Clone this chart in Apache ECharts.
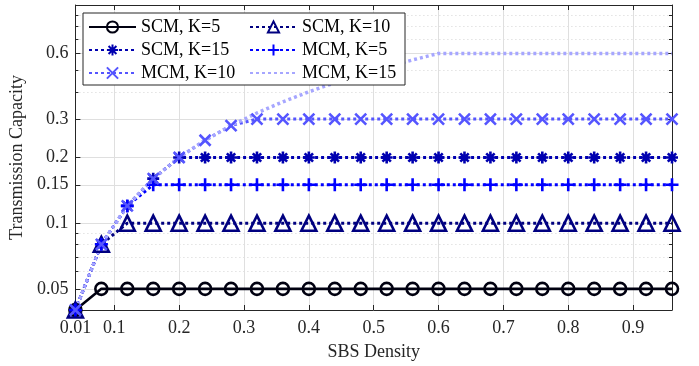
<!DOCTYPE html>
<html>
<head>
<meta charset="utf-8">
<script src="https://cdn.jsdelivr.net/npm/echarts@6/dist/echarts.min.js"></script>
<style>
  html, body { margin: 0; padding: 0; background: #fff; }
  #chart { width: 699px; height: 366px; }
</style>
</head>
<body>
<div id="chart"></div>
<script>
// SBS density samples
const density = [0.04, 0.08, 0.12, 0.16, 0.20, 0.24, 0.28, 0.32, 0.36, 0.40, 0.44, 0.48,
  0.52, 0.56, 0.60, 0.64, 0.68, 0.72, 0.76, 0.80, 0.84, 0.88, 0.92, 0.96]

// transmission capacity
const scmK5 = [0.04, 0.05, 0.05, 0.05, 0.05, 0.05, 0.05, 0.05, 0.05, 0.05, 0.05, 0.05,
  0.05, 0.05, 0.05, 0.05, 0.05, 0.05, 0.05, 0.05, 0.05, 0.05, 0.05, 0.05]
const scmK10 = [0.04, 0.08, 0.1, 0.1, 0.1, 0.1, 0.1, 0.1, 0.1, 0.1, 0.1, 0.1,
  0.1, 0.1, 0.1, 0.1, 0.1, 0.1, 0.1, 0.1, 0.1, 0.1, 0.1, 0.1]
const scmK15 = [0.04, 0.08, 0.12, 0.16, 0.2, 0.2, 0.2, 0.2, 0.2, 0.2, 0.2, 0.2,
  0.2, 0.2, 0.2, 0.2, 0.2, 0.2, 0.2, 0.2, 0.2, 0.2, 0.2, 0.2]
const mcmK5 = [0.04, 0.08, 0.12, 0.15, 0.15, 0.15, 0.15, 0.15, 0.15, 0.15, 0.15, 0.15,
  0.15, 0.15, 0.15, 0.15, 0.15, 0.15, 0.15, 0.15, 0.15, 0.15, 0.15, 0.15]
const mcmK10 = [0.04, 0.08, 0.12, 0.16, 0.2, 0.24, 0.28, 0.3, 0.3, 0.3, 0.3, 0.3,
  0.3, 0.3, 0.3, 0.3, 0.3, 0.3, 0.3, 0.3, 0.3, 0.3, 0.3, 0.3]
const mcmK15 = [0.04, 0.08, 0.12, 0.16, 0.2, 0.24, 0.28, 0.32, 0.36, 0.4, 0.44, 0.48,
  0.52, 0.56, 0.6, 0.6, 0.6, 0.6, 0.6, 0.6, 0.6, 0.6, 0.6, 0.6]

// ticks
const xTickValues = [0.04, 0.1, 0.2, 0.3, 0.4, 0.5, 0.6, 0.7, 0.8, 0.9]
const xTickLabels = ['0.01', '0.1', '0.2', '0.3', '0.4', '0.5', '0.6', '0.7', '0.8', '0.9']
const yTickValues = [0.05, 0.1, 0.15, 0.2, 0.3, 0.6]
const yTickLabels = ['0.05', '0.1', '0.15', '0.2', '0.3', '0.6']
const yMinorValues = [0.06, 0.07, 0.08, 0.09, 0.4, 0.5, 0.7, 0.8, 0.9]

const font = 'Liberation Serif'
const fontSize = 18
const ink = '#262626'

const plusPath = 'path://M5,0L5,10M0,5L10,5'
const crossPath = 'path://M0,0L10,10M10,0L0,10'
const starPath = 'path://M5,0L5,10M0,5L10,5M1.5,1.5L8.5,8.5M8.5,1.5L1.5,8.5'

function pick(values, labels, v) {
  let best = 0
  values.forEach((t, i) => {
    if (Math.abs(t - v) < Math.abs(values[best] - v)) best = i
  })
  return labels[best]
}

function pairs(ys) {
  return density.map((x, i) => [x, ys[i]])
}

function makeSeries(name, ys, color, dash, symbol, size, width) {
  return {
    name: name,
    type: 'line',
    data: pairs(ys),
    symbol: symbol,
    symbolSize: size,
    showSymbol: symbol !== 'none',
    lineStyle: { color: color, width: width, type: dash, cap: 'butt' },
    itemStyle: { color: 'rgba(0,0,0,0)', borderColor: color, borderWidth: 2.6 },
    emphasis: { disabled: true },
    animation: false
  }
}

const myChart = echarts.init(document.getElementById('chart'), null, { renderer: 'canvas' })

const legendText = { fontFamily: font, fontSize: fontSize, color: '#000' }

myChart.setOption({
  animation: false,
  textStyle: { fontFamily: font },
  grid: { left: 74, right: 27, top: 5, bottom: 56 },
  xAxis: [
    {
      type: 'value',
      min: 0.04,
      max: 0.96,
      name: 'SBS Density',
      nameLocation: 'middle',
      nameGap: 33,
      nameTextStyle: { fontFamily: font, fontSize: fontSize, color: ink },
      axisLine: { lineStyle: { color: ink, width: 1 } },
      axisTick: { inside: true, length: 5, lineStyle: { color: ink }, customValues: xTickValues.slice(1) },
      axisLabel: {
        customValues: xTickValues,
        fontFamily: font, fontSize: fontSize, color: ink, margin: 9,
        formatter: v => pick(xTickValues, xTickLabels, v)
      },
      splitLine: { show: true, lineStyle: { color: '#dfdfdf', width: 1 } }
    },
    {
      type: 'value',
      position: 'top',
      min: 0.04,
      max: 0.96,
      axisLine: { lineStyle: { color: ink, width: 1 } },
      axisTick: { inside: true, length: 5, lineStyle: { color: ink }, customValues: xTickValues.slice(1) },
      axisLabel: { show: false },
      splitLine: { show: false }
    }
  ],
  yAxis: [
    {
      type: 'log',
      min: 0.04,
      max: 1,
      name: 'Transmission Capacity',
      nameLocation: 'middle',
      nameGap: 43,
      nameTextStyle: { fontFamily: font, fontSize: fontSize, color: ink },
      axisLine: { show: true, lineStyle: { color: ink, width: 1 } },
      axisTick: { show: true, inside: true, length: 5, lineStyle: { color: ink }, customValues: yTickValues },
      axisLabel: {
        customValues: yTickValues,
        fontFamily: font, fontSize: fontSize, color: ink, margin: 7,
        formatter: v => pick(yTickValues, yTickLabels, v)
      },
      splitLine: { show: true, lineStyle: { color: '#dfdfdf', width: 1 } }
    },
    {
      type: 'log',
      min: 0.04,
      max: 1,
      position: 'left',
      axisLine: { show: false },
      axisTick: { show: true, inside: true, length: 3, lineStyle: { color: ink }, customValues: yMinorValues },
      axisLabel: { show: false },
      splitLine: { show: true, lineStyle: { color: '#d4d4d4', width: 1, type: [1, 3] } }
    },
    {
      type: 'log',
      min: 0.04,
      max: 1,
      position: 'right',
      axisLine: { show: true, lineStyle: { color: ink, width: 1 } },
      axisTick: { show: true, inside: true, length: 5, lineStyle: { color: ink }, customValues: yTickValues },
      axisLabel: { show: false },
      splitLine: { show: false }
    },
    {
      type: 'log',
      min: 0.04,
      max: 1,
      position: 'right',
      axisLine: { show: false },
      axisTick: { show: true, inside: true, length: 3, lineStyle: { color: ink }, customValues: yMinorValues },
      axisLabel: { show: false },
      splitLine: { show: false }
    }
  ],
  graphic: [
    {
      type: 'rect',
      z: 10,
      shape: { x: 83, y: 13, width: 322, height: 72 },
      style: { fill: '#fff', stroke: ink, lineWidth: 1 }
    }
  ],
  legend: [
    {
      orient: 'vertical',
      left: 88,
      top: 18,
      padding: 0,
      z: 20,
      itemWidth: 47,
      itemHeight: 14,
      itemGap: 5,
      textStyle: legendText,
      data: ['SCM, K=5', 'SCM, K=15', 'MCM, K=10']
    },
    {
      orient: 'vertical',
      left: 249,
      top: 18,
      padding: 0,
      z: 20,
      itemWidth: 47,
      itemHeight: 14,
      itemGap: 5,
      textStyle: legendText,
      data: ['SCM, K=10', 'MCM, K=5', { name: 'MCM, K=15', itemStyle: { borderColor: 'rgba(0,0,0,0)' } }]
    }
  ],
  series: [
    makeSeries('SCM, K=5', scmK5, '#000010', 'solid', 'circle', 12, 2.6),
    makeSeries('SCM, K=10', scmK10, '#000080', [3, 3], 'triangle', 15, 3),
    makeSeries('SCM, K=15', scmK15, '#0000b0', [3, 3], starPath, 12, 3),
    makeSeries('MCM, K=5', mcmK5, '#0000ff', [3, 3], plusPath, 13, 3),
    makeSeries('MCM, K=10', mcmK10, '#5555ff', [3, 3], crossPath, 11, 3),
    makeSeries('MCM, K=15', mcmK15, '#a6a6ff', [3, 3], 'none', 1, 3.5)
  ]
})

window.onresize = function() {
  myChart.resize()
}
</script>
</body>
</html>
